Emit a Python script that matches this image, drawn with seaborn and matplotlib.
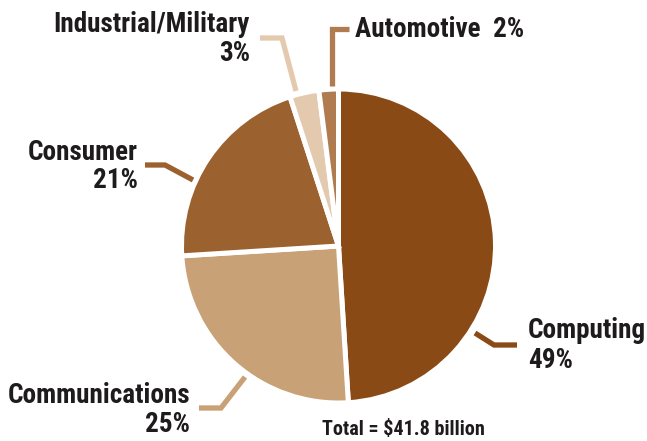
import matplotlib
matplotlib.use("Agg")
import matplotlib.pyplot as plt
from matplotlib import font_manager
import seaborn as sns

# Market segments, percent share
segments = ["Computing", "Communications", "Consumer", "Industrial/Military", "Automotive"]
shares = [49, 25, 21, 3, 2]
total_label = "Total = $41.8 billion"

seg_colors = ["#8A4A16", "#C8A177", "#9B612F", "#E3CAAF", "#B07C4F"]

W, H = 647, 441

sns.set_theme(style="white")


def pick_font():
    names = {f.name for f in font_manager.fontManager.ttflist}
    for cand in ["Liberation Sans Narrow", "DejaVu Sans Condensed", "Roboto Condensed",
                 "Open Sans Condensed"]:
        if cand in names:
            return cand, "normal"
    return "DejaVu Sans", "condensed"


FONT, STRETCH = pick_font()
plt.rcParams["font.family"] = [FONT, "DejaVu Sans"]

palette = sns.color_palette(seg_colors)

fig = plt.figure(figsize=(W / 100, H / 100), dpi=100)
ax = fig.add_axes([0, 0, 1, 1])


def py(y):
    # convert a top-down pixel row to axis units
    return H - y


cx, cy, r = 338.5, 246, 157
ax.pie(shares, colors=palette, startangle=90, counterclock=False,
       center=(cx, py(cy)), radius=r,
       wedgeprops=dict(edgecolor="white", linewidth=3.6))
ax.set_xlim(0, W)
ax.set_ylim(0, H)
ax.set_aspect("equal")
ax.axis("off")

# leader lines for each segment
leaders = {
    "Computing": [(475, 333), (494, 345), (517, 345)],
    "Communications": [(245, 377), (221, 408), (199, 408)],
    "Consumer": [(193, 180), (165, 165), (145, 165)],
    "Industrial/Military": [(296, 91), (282, 38), (260, 38)],
    "Automotive": [(332, 86), (332, 29), (349, 29)],
}
for seg, col in zip(segments, palette):
    pts = leaders[seg]
    ax.plot([p[0] for p in pts], [py(p[1]) for p in pts], color=col, lw=3.8,
            solid_capstyle="butt", solid_joinstyle="miter")

# label placement: (x, baseline of name, baseline of value, alignment)
label_pos = {
    "Computing": (528, 338, 368, "left"),
    "Communications": (190, 403, 432, "right"),
    "Consumer": (138, 160, 188, "right"),
    "Industrial/Military": (250, 32, 61, "right"),
}
txt = dict(color="#1E1B1C", fontsize=19.5, fontweight="bold", fontstretch=STRETCH,
           va="baseline")
for seg, val in zip(segments, shares):
    if seg in label_pos:
        x, y1, y2, ha = label_pos[seg]
        ax.text(x, py(y1), seg, ha=ha, **txt)
        ax.text(x, py(y2), f"{val}%", ha=ha, **txt)
    else:
        ax.text(355, py(37), f"{seg}  {val}%", ha="left", **txt)

ax.text(322, py(435), total_label, ha="left", color="#1E1B1C", fontsize=14.5,
        fontweight="bold", fontstretch=STRETCH, va="baseline")

fig.savefig("out.png", dpi=100, facecolor="white")
